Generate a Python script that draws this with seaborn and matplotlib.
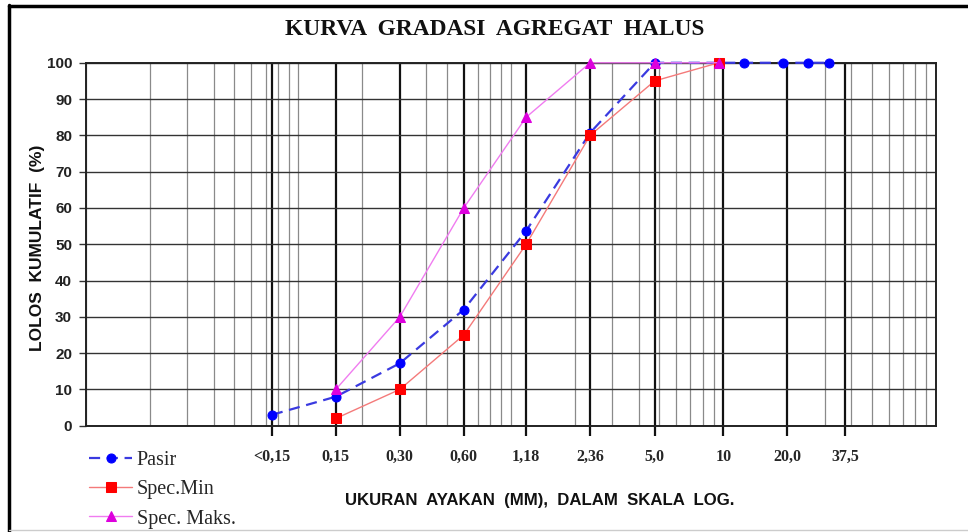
import numpy as np
import pandas as pd
import matplotlib
matplotlib.use("Agg")
import matplotlib.pyplot as plt
import seaborn as sns
from matplotlib.ticker import FixedLocator, LogLocator, NullFormatter
from matplotlib.lines import Line2D

# ── data ───────────────────────────────────────────────────────────────
pasir_size = [0.075, 0.15, 0.3, 0.6, 1.18, 2.36, 4.75, 9.5, 12.5, 19, 25, 31.5]
pasir_lolos = [3, 8, 17.2, 32, 53.7, 80.7, 100, 100, 100, 100, 100, 100]

spec_size = [0.15, 0.3, 0.6, 1.18, 2.36, 4.75, 9.5]
spec_min = [2, 10, 25, 50, 80, 95, 100]
spec_maks = [10, 30, 60, 85, 100, 100, 100]

sieve_ticks = [0.075, 0.15, 0.3, 0.6, 1.18, 2.36, 4.75, 10, 20, 37.5]
sieve_labels = ["<0,15", "0,15", "0,30", "0,60", "1,18", "2,36", "5,0", "10", "20,0", "37,5"]
y_ticks = list(range(0, 101, 10))

sns.set_theme(style="white")
plt.rcParams["font.family"] = ["Liberation Sans", "DejaVu Sans"]

fig = plt.figure(figsize=(9.68, 5.32), dpi=100)
ax = fig.add_axes([0.0888, 0.1998, 0.878, 0.6822])

df_pasir = pd.DataFrame({"size": pasir_size, "lolos": pasir_lolos})
df_spec = pd.DataFrame({"size": spec_size, "min": spec_min, "maks": spec_maks})

sns.lineplot(data=df_pasir, x="size", y="lolos", ax=ax, color="#3a3ae0", lw=1.6,
             linestyle=(0, (5, 3)), marker="o", markersize=6.5,
             markerfacecolor="#0000ff", markeredgecolor="#0000ff",
             label="Pasir", clip_on=False, zorder=5)
sns.lineplot(data=df_spec, x="size", y="min", ax=ax, color="#f47a7a", lw=1.0,
             marker="s", markersize=6.5,
             markerfacecolor="#ff0000", markeredgecolor="#ff0000",
             label="Spec.Min", clip_on=False, zorder=6)
sns.lineplot(data=df_spec, x="size", y="maks", ax=ax, color="#f07cf0", lw=1.0,
             marker="^", markersize=6.5,
             markerfacecolor="#dd00dd", markeredgecolor="#dd00dd",
             label="Spec. Maks.", clip_on=False, zorder=7)

# ── log axis with log-paper grid ───────────────────────────────────────
ax.set_xscale("log")
ax.set_xlim(0.01, 100)
ax.set_ylim(0, 100)
ax.xaxis.set_major_locator(FixedLocator(sieve_ticks))
ax.set_xticklabels(sieve_labels)
ax.xaxis.set_minor_locator(LogLocator(base=10, subs=np.arange(1, 10), numticks=20))
ax.xaxis.set_minor_formatter(NullFormatter())
ax.set_yticks(y_ticks)

ax.grid(False)
ax.grid(which="minor", axis="x", color="#8a8a8a", lw=0.9)
ax.grid(which="major", axis="x", color="#111111", lw=1.6)
ax.grid(which="major", axis="y", color="#333333", lw=1.0)
ax.set_axisbelow(True)

ax.tick_params(axis="x", which="major", direction="out", length=7, width=1.6,
               color="#111111", pad=10, bottom=True)
ax.tick_params(axis="x", which="minor", length=0)
ax.tick_params(axis="y", direction="out", length=5, width=1.0, color="#333333",
               pad=5, left=True)
for lab in ax.get_xticklabels():
    lab.set_fontfamily(["Liberation Serif", "DejaVu Serif"])
    lab.set_fontweight("bold")
    lab.set_fontsize(11.5)
for lab in ax.get_yticklabels():
    lab.set_fontweight("bold")
    lab.set_fontsize(11)
    lab.set_color("#222222")

for s in ax.spines.values():
    s.set_color("#222222")
    s.set_linewidth(1.4)

ax.set_xlabel("")
ax.set_ylabel("")

fig.text(0.511, 0.944, "KURVA  GRADASI  AGREGAT  HALUS", ha="center", va="center",
         fontsize=16.8, fontweight="bold", family=["Liberation Serif", "DejaVu Serif"],
         color="#111111")
fig.text(0.558, 0.06, "UKURAN  AYAKAN  (MM),  DALAM  SKALA  LOG.", ha="center",
         va="center", fontsize=12.1, fontweight="bold", color="#111111")
fig.text(0.039, 0.535, "LOLOS  KUMULATIF  (%)", ha="center", va="center",
         rotation=90, fontsize=12.5, fontweight="bold", color="#111111")

handles, labels = ax.get_legend_handles_labels()
ax.legend(handles, labels, loc="upper left", bbox_to_anchor=(0.082, 0.171),
          bbox_transform=fig.transFigure, frameon=False, handlelength=2.1,
          handletextpad=0.25, labelspacing=0.5, borderpad=0,
          prop={"family": ["Liberation Serif", "DejaVu Serif"], "size": 14.5})

# ── outer frame of the picture ────────────────────────────────────────
fig.add_artist(Line2D([0.009, 1.0], [0.9895, 0.9895], transform=fig.transFigure,
                      color="black", lw=2.5))
fig.add_artist(Line2D([0.0095, 0.0095], [0.0, 0.991], transform=fig.transFigure,
                      color="black", lw=2.5))
fig.add_artist(Line2D([0.009, 1.0], [0.004, 0.004], transform=fig.transFigure,
                      color="#cccccc", lw=1.0))

fig.savefig("out.png", dpi=100)
